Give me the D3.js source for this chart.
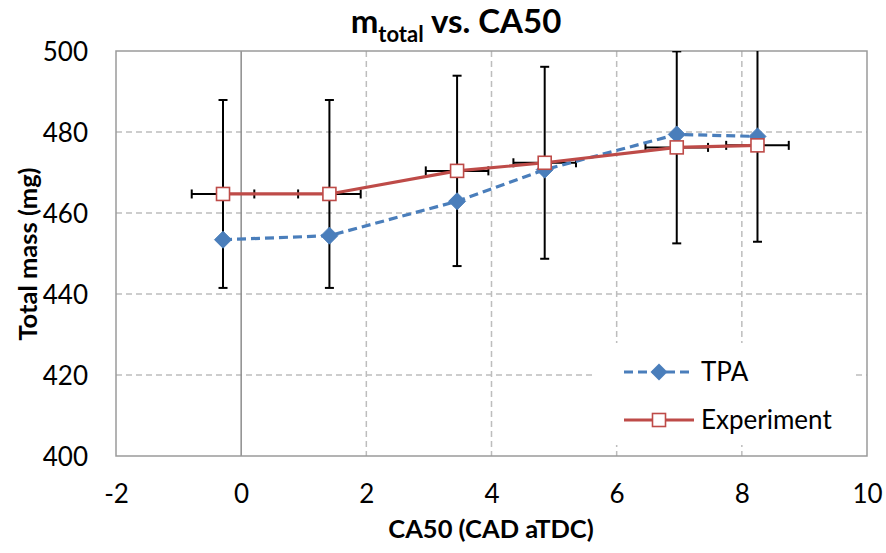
<!DOCTYPE html>
<html>
<head>
<meta charset="utf-8">
<script src="https://cdn.jsdelivr.net/npm/d3@7"></script>
<style>
  html, body { margin: 0; padding: 0; background: #fff; }
  svg { display: block; font-family: Lato, "Open Sans", sans-serif; }
</style>
</head>
<body>
<svg id="chart" width="886" height="553"></svg>
<script>
// ---- data ----
const ca50 = [-0.29, 1.41, 3.45, 4.85, 6.96, 8.25];
const tpa = [453.4, 454.4, 462.9, 470.7, 479.4, 478.9];
const experiment = [464.7, 464.7, 470.4, 472.4, 476.2, 476.7];
const expYErr = [23.2, 23.2, 23.5, 23.7, 23.7, 23.8];
const expXErr = [0.5, 0.5, 0.5, 0.5, 0.5, 0.5];
const xTicks = [-2, 0, 2, 4, 6, 8, 10];
const yTicks = [400, 420, 440, 460, 480, 500];
const seriesNames = ["TPA", "Experiment"];

// ---- layout ----
const plot = { left: 116, right: 867, top: 51, bottom: 456 };
const blue = "#4a7ebb", red = "#be4b48";

const svg = d3.select("#chart");
const x = d3.scaleLinear().domain([-2, 10]).range([plot.left, plot.right]);
const y = d3.scaleLinear().domain([400, 500]).range([plot.bottom, plot.top]);

svg.append("defs").append("clipPath").attr("id", "clip")
  .append("rect").attr("x", plot.left).attr("y", plot.top)
  .attr("width", plot.right - plot.left).attr("height", plot.bottom - plot.top);

// gridlines
const grid = svg.append("g");
grid.selectAll("line.h").data(yTicks.filter(d => d > 400 && d < 500)).join("line")
  .attr("x1", plot.left).attr("x2", plot.right)
  .attr("y1", d => y(d)).attr("y2", d => y(d))
  .attr("stroke", "#bdbdbd").attr("stroke-width", 1.5).attr("stroke-dasharray", "6,4");
grid.selectAll("line.v").data(xTicks.filter(d => d > -2 && d < 10 && d !== 0)).join("line")
  .attr("y1", plot.top).attr("y2", plot.bottom)
  .attr("x1", d => x(d)).attr("x2", d => x(d))
  .attr("stroke", "#bdbdbd").attr("stroke-width", 1.5).attr("stroke-dasharray", "6,4");

// vertical axis line at x = 0
svg.append("line").attr("x1", x(0)).attr("x2", x(0))
  .attr("y1", plot.top).attr("y2", plot.bottom)
  .attr("stroke", "#8c8c8c").attr("stroke-width", 1.5);

// plot border
svg.append("rect").attr("x", plot.left).attr("y", plot.top)
  .attr("width", plot.right - plot.left).attr("height", plot.bottom - plot.top)
  .attr("fill", "none").attr("stroke", "#9a9a9a").attr("stroke-width", 1.5);

// axes (labels only)
const xAxis = svg.append("g").attr("transform", `translate(0,${plot.bottom})`)
  .call(d3.axisBottom(x).tickValues(xTicks).tickSize(0).tickFormat(d => String(d)));
xAxis.select(".domain").remove();
xAxis.selectAll("text").attr("font-size", 26).attr("fill", "#000").attr("font-family", "Lato")
  .attr("y", 47).attr("dy", 0);

const yAxis = svg.append("g").attr("transform", `translate(${plot.left},0)`)
  .call(d3.axisLeft(y).tickValues(yTicks).tickSize(0).tickPadding(28).tickFormat(d => String(d)));
yAxis.select(".domain").remove();
yAxis.selectAll("text").attr("font-size", 26).attr("fill", "#000").attr("font-family", "Lato").attr("dy", "0.36em");

const data = ca50.map((c, i) => ({ x: c, tpa: tpa[i], exp: experiment[i], ye: expYErr[i], xe: expXErr[i] }));

const inner = svg.append("g").attr("clip-path", "url(#clip)");

// error bars
const eb = inner.append("g").attr("stroke", "#000").attr("stroke-width", 2);
const cap = 4.5;
data.forEach(d => {
  eb.append("line").attr("x1", x(d.x)).attr("x2", x(d.x)).attr("y1", y(d.exp - d.ye)).attr("y2", y(d.exp + d.ye));
  eb.append("line").attr("x1", x(d.x) - cap).attr("x2", x(d.x) + cap).attr("y1", y(d.exp - d.ye)).attr("y2", y(d.exp - d.ye));
  eb.append("line").attr("x1", x(d.x) - cap).attr("x2", x(d.x) + cap).attr("y1", y(d.exp + d.ye)).attr("y2", y(d.exp + d.ye));
  eb.append("line").attr("x1", x(d.x - d.xe)).attr("x2", x(d.x + d.xe)).attr("y1", y(d.exp)).attr("y2", y(d.exp));
  eb.append("line").attr("x1", x(d.x - d.xe)).attr("x2", x(d.x - d.xe)).attr("y1", y(d.exp) - cap).attr("y2", y(d.exp) + cap);
  eb.append("line").attr("x1", x(d.x + d.xe)).attr("x2", x(d.x + d.xe)).attr("y1", y(d.exp) - cap).attr("y2", y(d.exp) + cap);
});

// lines
const lineTpa = d3.line().x(d => x(d.x)).y(d => y(d.tpa));
const lineExp = d3.line().x(d => x(d.x)).y(d => y(d.exp));
inner.append("path").datum(data).attr("d", lineTpa).attr("fill", "none")
  .attr("stroke", blue).attr("stroke-width", 3.2).attr("stroke-dasharray", "9,5");
inner.append("path").datum(data).attr("d", lineExp).attr("fill", "none")
  .attr("stroke", red).attr("stroke-width", 3.2);

// markers
const diamond = s => `M0,${-s}L${s},0L0,${s}L${-s},0Z`;
const markers = svg.append("g");
markers.selectAll("path.tpa").data(data).join("path")
  .attr("d", diamond(8.5)).attr("transform", d => `translate(${x(d.x)},${y(d.tpa)})`)
  .attr("fill", blue).attr("stroke", blue).attr("stroke-width", 1);
markers.selectAll("rect.exp").data(data).join("rect")
  .attr("x", d => x(d.x) - 6.5).attr("y", d => y(d.exp) - 6.5)
  .attr("width", 13).attr("height", 13)
  .attr("fill", "#fff").attr("stroke", red).attr("stroke-width", 1.6);

// legend
const lg = svg.append("g");
lg.append("rect").attr("x", 595).attr("y", 343).attr("width", 261).attr("height", 102).attr("fill", "#fff");
const legY = [372, 420];
lg.append("line").attr("x1", 624).attr("x2", 694).attr("y1", legY[0]).attr("y2", legY[0])
  .attr("stroke", blue).attr("stroke-width", 3.2).attr("stroke-dasharray", "9,5");
lg.append("path").attr("d", diamond(8.5)).attr("transform", `translate(659,${legY[0]})`).attr("fill", blue);
lg.append("line").attr("x1", 624).attr("x2", 694).attr("y1", legY[1]).attr("y2", legY[1])
  .attr("stroke", red).attr("stroke-width", 3.2);
lg.append("rect").attr("x", 652.5).attr("y", legY[1] - 6.5).attr("width", 13).attr("height", 13)
  .attr("fill", "#fff").attr("stroke", red).attr("stroke-width", 1.6);
seriesNames.forEach((n, i) => {
  lg.append("text").attr("x", 701).attr("y", legY[i]).attr("dy", "0.36em")
    .attr("font-size", 26).attr("fill", "#000").text(n);
});

// title
const title = svg.append("text").attr("x", 456).attr("y", 33).attr("text-anchor", "middle")
  .attr("font-size", 33).attr("font-weight", "bold").attr("fill", "#000");
title.append("tspan").text("m");
title.append("tspan").attr("font-size", 22).attr("dy", 9).text("total");
title.append("tspan").attr("dy", -9).text(" vs. CA50");

// axis titles
svg.append("text").attr("x", 491).attr("y", 538).attr("text-anchor", "middle")
  .attr("font-size", 25.5).attr("font-weight", "bold").attr("fill", "#000").text("CA50 (CAD aTDC)");
svg.append("text").attr("transform", "translate(37,254) rotate(-90)").attr("text-anchor", "middle")
  .attr("font-size", 25.5).attr("font-weight", "bold").attr("fill", "#000").text("Total mass (mg)");
</script>
</body>
</html>
